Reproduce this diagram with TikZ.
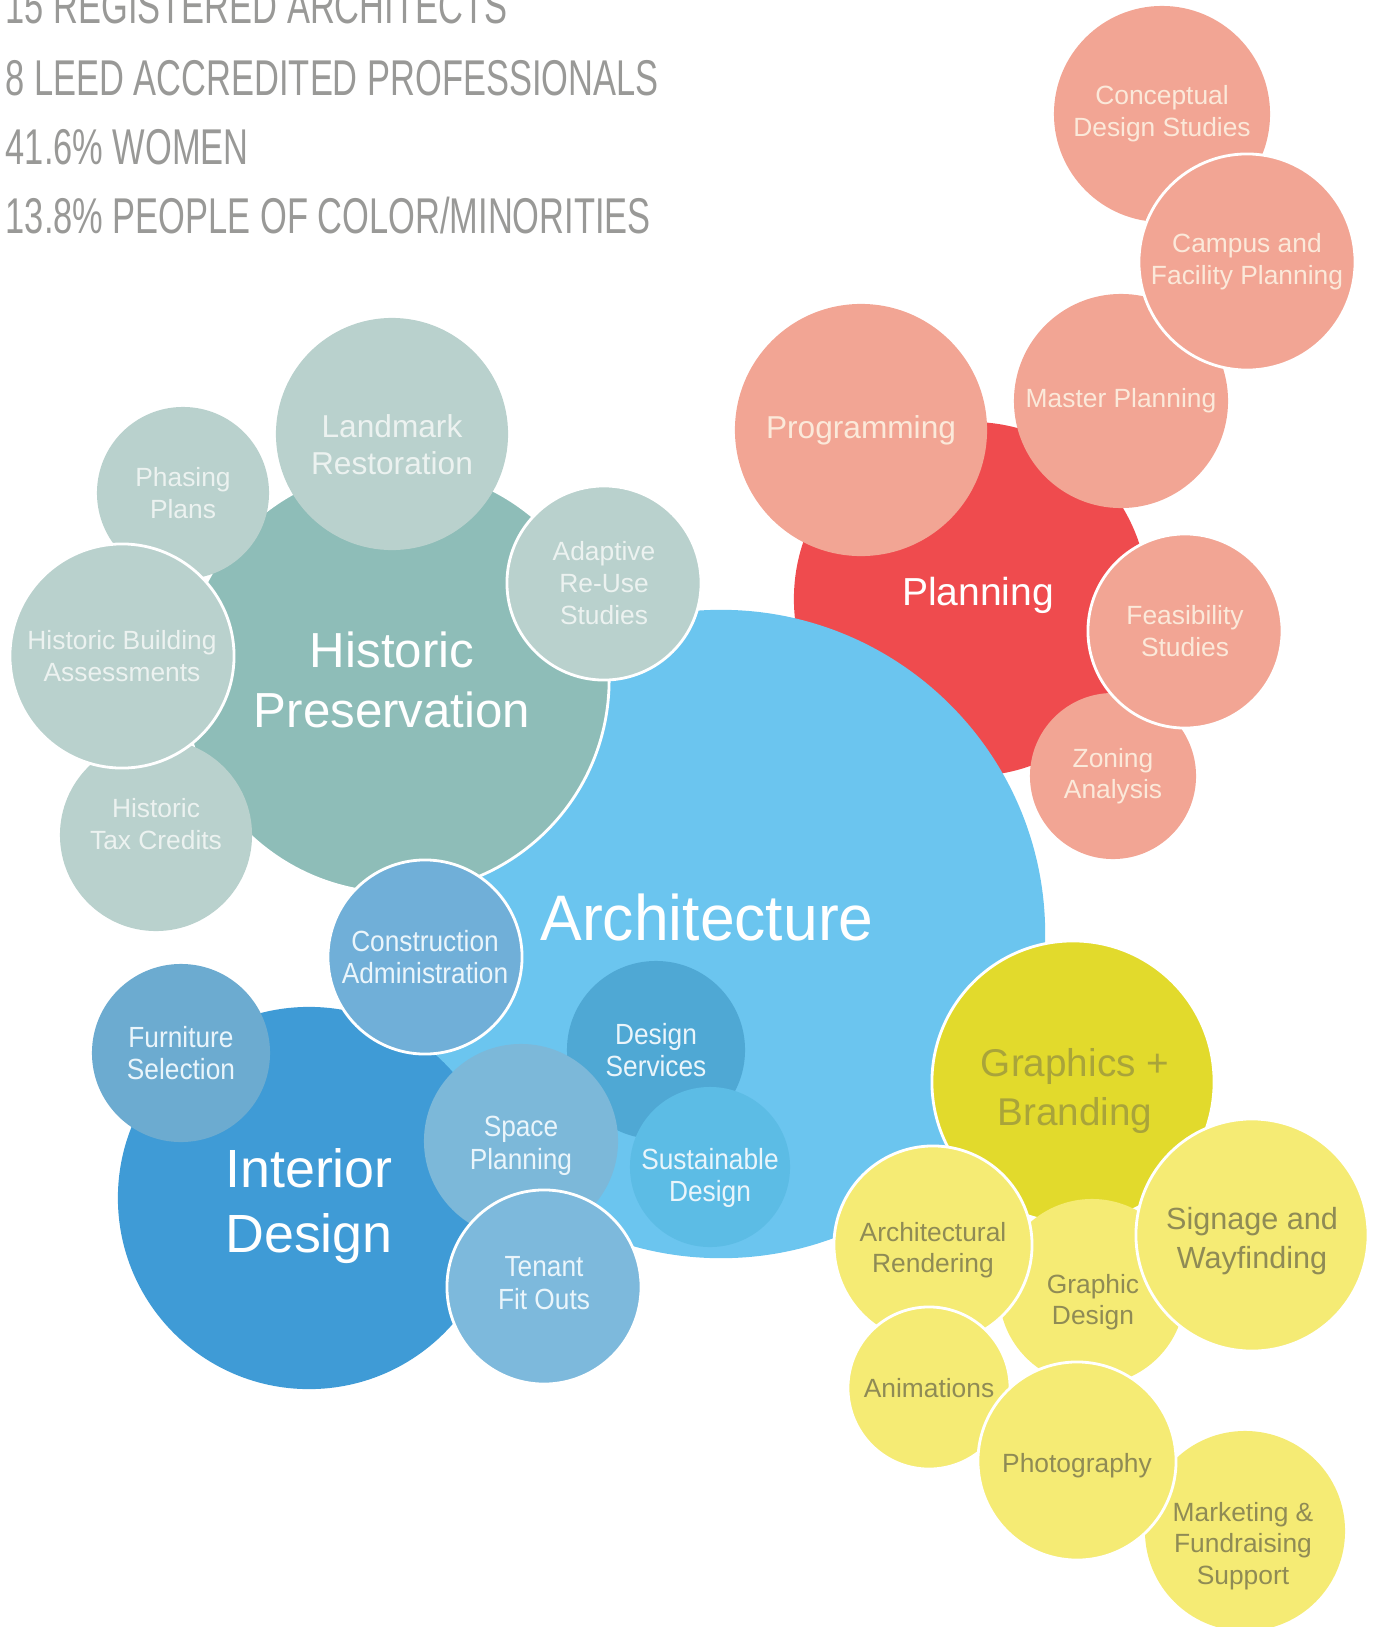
\documentclass[tikz,border=0pt]{standalone}
\usepackage{fontspec}
\setmainfont{Liberation Sans}
\newfontfamily\narrowfont[FakeStretch=0.9]{Liberation Sans}
\newfontfamily\archfont[FakeStretch=0.97]{Liberation Sans}
\newfontfamily\headfont[FakeStretch=0.685]{Liberation Sans}
\usepackage{tikz}

\definecolor{headgrey}{HTML}{999997}
\definecolor{planred}{HTML}{EF4B4E}
\definecolor{salmon}{HTML}{F2A594}
\definecolor{salmontext}{HTML}{FBE9DA}
\definecolor{tealdark}{HTML}{8EBDB8}
\definecolor{teallight}{HTML}{B9D1CD}
\definecolor{tealtext}{HTML}{ECF2F0}
\definecolor{archblue}{HTML}{6BC5EF}
\definecolor{intblue}{HTML}{3F9BD6}
\definecolor{furnblue}{HTML}{6CABD0}
\definecolor{consblue}{HTML}{70AFD8}
\definecolor{dsblue}{HTML}{4FA8D4}
\definecolor{susblue}{HTML}{5CBCE5}
\definecolor{spblue}{HTML}{7CB8D9}
\definecolor{tenblue}{HTML}{7DB9DC}
\definecolor{bluetext}{HTML}{EAF5FB}
\definecolor{brandyellow}{HTML}{E2DA2C}
\definecolor{brandtext}{HTML}{A9A43A}
\definecolor{paleyellow}{HTML}{F5EB74}
\definecolor{yellowtext}{HTML}{8F8B55}

\tikzset{
  bubble/.style={circle, inner sep=0pt, align=center, font=\fontsize{7.5}{9}\selectfont},
  rim/.style={draw=white, line width=0.8pt},
  pinkbub/.style={bubble, fill=salmon, text=salmontext},
  tealbub/.style={bubble, fill=teallight, text=tealtext},
  bluebub/.style={bubble, text=bluetext, font=\narrowfont\fontsize{8.3}{9.2}\selectfont},
  yellbub/.style={bubble, fill=paleyellow, text=yellowtext},
  headline/.style={anchor=base west, inner sep=0pt, text=headgrey, font=\headfont\fontsize{14.3}{16}\selectfont},
  bigtext/.style={align=center, inner sep=0pt},
  smalltext/.style={bigtext, font=\fontsize{7.5}{9}\selectfont}
}

\begin{document}
\begin{tikzpicture}[x=0.01cm, y=-0.01cm]
\useasboundingbox (0,0) rectangle (1377,1627);

% staff figures
\node[headline] (regarch) at (5,23) {15 REGISTERED ARCHITECTS};
\node[headline] (leed) at (5,95) {8 LEED ACCREDITED PROFESSIONALS};
\node[headline] (women) at (5,164) {41.6\% WOMEN};
\node[headline] (minor) at (5,233) {13.8\% PEOPLE OF COLOR/MINORITIES};

% planning
\node[bubble, fill=planred, minimum size=3.54cm] (plan) at (971,599) {};
\node[bigtext, text=white, font=\fontsize{11.1}{13}\selectfont] (plantxt) at (978,595) {Planning};
\node[pinkbub, minimum size=2.52cm, font=\fontsize{9}{11}\selectfont] (prog) at (861,430) {Programming};
\node[pinkbub, minimum size=2.14cm] (master) at (1121,401) {Master Planning};
\node[pinkbub, minimum size=2.16cm] (concept) at (1162,114) {Conceptual\\Design Studies};
\node[pinkbub, rim, minimum size=2.16cm] (campus) at (1247,262) {Campus and\\Facility Planning};
\node[pinkbub, minimum size=1.66cm] (zoning) at (1113,776) {Zoning\\Analysis};
\node[pinkbub, rim, minimum size=1.94cm] (feas) at (1185,631) {Feasibility\\Studies};

% architecture
\node[bubble, fill=archblue, minimum size=6.48cm] (arch) at (721,934) {};

% historic preservation
\node[bubble, rim, fill=tealdark, minimum size=4.26cm] (hist) at (396,680) {};
\node[bigtext, text=white, font=\fontsize{14}{17}\selectfont] (histtxt) at (392,680) {Historic\\Preservation};
\node[tealbub, minimum size=1.72cm] (phase) at (183,493) {Phasing\\Plans};
\node[tealbub, minimum size=1.92cm] (tax) at (156,835) {};
\node[smalltext, text=tealtext] (taxtxt) at (156,824) {Historic\\Tax Credits};
\node[tealbub, rim, minimum size=2.24cm] (assess) at (122,656) {Historic Building\\Assessments};
\node[tealbub, minimum size=2.32cm] (landmark) at (392,434) {};
\node[bigtext, text=tealtext, font=\fontsize{9}{10.5}\selectfont] (landtxt) at (392,445) {Landmark\\Restoration};
\node[tealbub, rim, minimum size=1.94cm] (adapt) at (604,583) {Adaptive\\Re-Use\\Studies};

% interior design
\node[bubble, fill=intblue, minimum size=3.82cm] (interior) at (309,1198) {};
\node[bigtext, text=white, font=\fontsize{15.3}{18.3}\selectfont] (inttxt) at (309,1206) {Interior\\Design};
\node[bluebub, fill=furnblue, minimum size=1.78cm] (furn) at (181,1053) {Furniture\\Selection};
\node[bluebub, rim, fill=consblue, minimum size=1.94cm] (cons) at (425,957) {Construction\\Administration};
\node[bluebub, fill=dsblue, minimum size=1.78cm] (dserv) at (656,1050) {Design\\Services};
\node[bluebub, fill=susblue, minimum size=1.60cm] (sust) at (710,1167) {};
\node[bigtext, text=bluetext, font=\narrowfont\fontsize{8.3}{9.2}\selectfont] (susttxt) at (710,1178) {Sustainable\\Design};
\node[bluebub, fill=spblue, minimum size=1.94cm] (space) at (521,1141) {};
\node[bigtext, text=bluetext, font=\narrowfont\fontsize{8.3}{9.2}\selectfont] (spacetxt) at (521,1146) {Space\\Planning};
\node[bluebub, rim, fill=tenblue, minimum size=1.94cm] (tenant) at (544,1287) {};
\node[bigtext, text=bluetext, font=\narrowfont\fontsize{8.3}{9.2}\selectfont] (tentxt) at (544,1283) {Tenant\\Fit Outs};
\node[bigtext, text=white, font=\archfont\fontsize{18.3}{20}\selectfont] (archtxt) at (707,917) {Architecture};

% graphics + branding
\node[bubble, rim, fill=brandyellow, minimum size=2.82cm] (brand) at (1073,1082) {};
\node[bigtext, text=brandtext, font=\fontsize{11}{13.9}\selectfont] (brandtxt) at (1075,1091) {Graphics +\\Branding};
\node[yellbub, minimum size=1.86cm] (gdesign) at (1092,1292) {};
\node[smalltext, text=yellowtext] (gdtxt) at (1093,1302) {Graphic\\Design};
\node[yellbub, rim, minimum size=1.98cm] (render) at (933,1245) {};
\node[smalltext, text=yellowtext] (rendtxt) at (933,1250) {Architectural\\Rendering};
\node[yellbub, rim, minimum size=2.32cm] (sign) at (1252,1235) {};
\node[bigtext, text=yellowtext, font=\fontsize{8.7}{10.9}\selectfont] (signtxt) at (1252,1241) {Signage and\\Wayfinding};
\node[yellbub, rim, minimum size=1.62cm] (anim) at (929,1388) {Animations};
\node[yellbub, minimum size=2.00cm] (market) at (1245,1531) {};
\node[smalltext, text=yellowtext] (markettxt) at (1243,1546) {Marketing \&\\Fundraising\\Support};
\node[yellbub, rim, minimum size=1.98cm] (photo) at (1077,1461) {};
\node[smalltext, text=yellowtext] (phototxt) at (1077,1466) {Photography};
\end{tikzpicture}
\end{document}
